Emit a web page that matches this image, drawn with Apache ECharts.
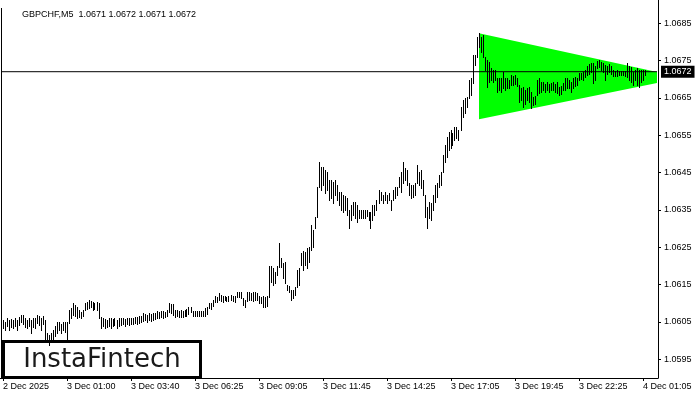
<!DOCTYPE html>
<html>
<head>
<meta charset="utf-8">
<script src="https://cdn.jsdelivr.net/npm/echarts@6/dist/echarts.min.js"></script>
<style>
html,body{margin:0;padding:0;background:#fff;}
#c{width:700px;height:400px;}
</style>
</head>
<body>
<div id="c"></div>
<script>
// ---- data ----
const symbolName = 'GBPCHF,M5';
const lastQuote = ['1.0671', '1.0672', '1.0671', '1.0672'];
const currentPrice = 1.0672;

// bar highs (one per 5-minute bar)
const highs = [
  1.06056,1.06056,1.06051,1.06061,1.06056,1.06059,1.06056,1.06061,1.06056,1.06064,
  1.06069,1.06069,1.06061,1.06056,1.06061,1.06056,1.06061,1.06061,1.06069,1.06067,
  1.06061,1.06067,1.06056,1.06021,1.06016,1.06021,1.06029,1.06040,1.06051,1.06051,
  1.06045,1.06051,1.06051,1.06051,1.06083,1.06088,1.06101,1.06096,1.06091,1.06083,
  1.06077,1.06083,1.06101,1.06104,1.06109,1.06107,1.06104,1.06101,1.06104,1.06101,
  1.06064,1.06061,1.06059,1.06056,1.06061,1.06061,1.06059,1.06061,1.06056,1.06061,
  1.06061,1.06061,1.06059,1.06061,1.06061,1.06061,1.06061,1.06064,1.06064,1.06067,
  1.06067,1.06075,1.06072,1.06069,1.06075,1.06072,1.06075,1.06075,1.06080,1.06077,
  1.06080,1.06080,1.06077,1.06083,1.06101,1.06099,1.06099,1.06083,1.06083,1.06080,
  1.06083,1.06080,1.06083,1.06085,1.06091,1.06091,1.06080,1.06080,1.06080,1.06080,
  1.06080,1.06080,1.06088,1.06091,1.06101,1.06101,1.06109,1.06120,1.06117,1.06128,
  1.06123,1.06120,1.06120,1.06117,1.06120,1.06123,1.06120,1.06120,1.06131,1.06131,
  1.06131,1.06115,1.06109,1.06131,1.06131,1.06128,1.06131,1.06131,1.06128,1.06120,
  1.06117,1.06120,1.06117,1.06120,1.06200,1.06200,1.06195,1.06184,1.06200,1.06262,
  1.06222,1.06208,1.06211,1.06149,1.06147,1.06136,1.06136,1.06144,1.06190,1.06195,
  1.06235,1.06240,1.06238,1.06248,1.06251,1.06310,1.06297,1.06331,1.06411,1.06478,
  1.06465,1.06465,1.06457,1.06452,1.06430,1.06430,1.06425,1.06430,1.06417,1.06398,
  1.06398,1.06390,1.06387,1.06382,1.06350,1.06363,1.06371,1.06371,1.06363,1.06350,
  1.06350,1.06350,1.06350,1.06350,1.06345,1.06345,1.06363,1.06363,1.06377,1.06403,
  1.06398,1.06390,1.06398,1.06390,1.06395,1.06377,1.06403,1.06411,1.06411,1.06438,
  1.06452,1.06478,1.06462,1.06457,1.06422,1.06417,1.06417,1.06422,1.06470,1.06452,
  1.06457,1.06430,1.06390,1.06358,1.06371,1.06369,1.06390,1.06417,1.06422,1.06444,
  1.06452,1.06497,1.06524,1.06545,1.06559,1.06564,1.06556,1.06572,1.06572,1.06564,
  1.06625,1.06644,1.06649,1.06652,1.06698,1.06703,1.06764,1.06764,1.06813,1.06823,
  1.06813,1.06818,1.06759,1.06751,1.06746,1.06730,1.06724,1.06724,1.06703,1.06703,
  1.06703,1.06719,1.06703,1.06703,1.06698,1.06711,1.06708,1.06711,1.06703,1.06684,
  1.06676,1.06679,1.06671,1.06676,1.06679,1.06666,1.06652,1.06655,1.06698,1.06703,
  1.06692,1.06692,1.06687,1.06692,1.06687,1.06690,1.06692,1.06687,1.06692,1.06679,
  1.06682,1.06690,1.06703,1.06703,1.06698,1.06692,1.06703,1.06706,1.06703,1.06716,
  1.06716,1.06719,1.06724,1.06735,1.06740,1.06743,1.06743,1.06735,1.06748,1.06751,
  1.06746,1.06743,1.06738,1.06735,1.06740,1.06735,1.06724,1.06722,1.06724,1.06722,
  1.06722,1.06722,1.06722,1.06743,1.06735,1.06732,1.06719,1.06724,1.06730,1.06724,
  1.06724,1.06724,1.06724
];

// bar lows
const lows = [
  1.06037,1.06034,1.06029,1.06040,1.06029,1.06037,1.06034,1.06040,1.06029,1.06043,
  1.06051,1.06045,1.06037,1.06034,1.06040,1.06021,1.06037,1.06034,1.06048,1.06043,
  1.06029,1.06045,1.06002,1.05997,1.05989,1.05997,1.06002,1.06013,1.06021,1.06029,
  1.06021,1.06029,1.06024,1.06002,1.06048,1.06061,1.06069,1.06067,1.06061,1.06064,
  1.06061,1.06067,1.06083,1.06085,1.06088,1.06091,1.06083,1.06085,1.06083,1.06061,
  1.06034,1.06040,1.06034,1.06037,1.06040,1.06034,1.06040,1.06043,1.06034,1.06040,
  1.06043,1.06045,1.06040,1.06045,1.06043,1.06045,1.06045,1.06048,1.06045,1.06048,
  1.06051,1.06053,1.06056,1.06051,1.06056,1.06053,1.06056,1.06059,1.06061,1.06061,
  1.06064,1.06061,1.06064,1.06067,1.06077,1.06075,1.06069,1.06064,1.06067,1.06064,
  1.06064,1.06064,1.06067,1.06067,1.06072,1.06077,1.06067,1.06067,1.06067,1.06067,
  1.06067,1.06067,1.06067,1.06072,1.06088,1.06085,1.06093,1.06104,1.06104,1.06109,
  1.06107,1.06104,1.06109,1.06107,1.06107,1.06109,1.06107,1.06104,1.06117,1.06117,
  1.06115,1.06096,1.06091,1.06107,1.06109,1.06109,1.06107,1.06109,1.06109,1.06101,
  1.06101,1.06091,1.06091,1.06093,1.06117,1.06157,1.06149,1.06155,1.06176,1.06198,
  1.06198,1.06168,1.06155,1.06136,1.06131,1.06109,1.06115,1.06123,1.06144,1.06149,
  1.06203,1.06190,1.06203,1.06195,1.06211,1.06243,1.06251,1.06302,1.06331,1.06411,
  1.06403,1.06417,1.06395,1.06403,1.06377,1.06382,1.06369,1.06390,1.06377,1.06363,
  1.06350,1.06345,1.06350,1.06337,1.06302,1.06323,1.06337,1.06329,1.06318,1.06329,
  1.06329,1.06329,1.06329,1.06334,1.06323,1.06302,1.06323,1.06337,1.06350,1.06369,
  1.06377,1.06369,1.06377,1.06369,1.06377,1.06350,1.06377,1.06382,1.06390,1.06411,
  1.06398,1.06422,1.06430,1.06417,1.06390,1.06382,1.06385,1.06390,1.06422,1.06417,
  1.06409,1.06390,1.06331,1.06302,1.06329,1.06323,1.06350,1.06371,1.06385,1.06411,
  1.06417,1.06452,1.06478,1.06492,1.06510,1.06516,1.06524,1.06537,1.06543,1.06537,
  1.06564,1.06599,1.06609,1.06625,1.06649,1.06658,1.06690,1.06738,1.06759,1.06786,
  1.06772,1.06759,1.06724,1.06679,1.06692,1.06698,1.06692,1.06698,1.06666,1.06671,
  1.06666,1.06676,1.06671,1.06676,1.06676,1.06684,1.06684,1.06687,1.06682,1.06639,
  1.06644,1.06625,1.06633,1.06644,1.06639,1.06623,1.06631,1.06633,1.06658,1.06663,
  1.06666,1.06671,1.06666,1.06671,1.06666,1.06671,1.06671,1.06666,1.06663,1.06658,
  1.06660,1.06671,1.06671,1.06676,1.06676,1.06666,1.06676,1.06682,1.06684,1.06698,
  1.06700,1.06698,1.06706,1.06711,1.06714,1.06719,1.06690,1.06698,1.06730,1.06732,
  1.06724,1.06719,1.06698,1.06714,1.06719,1.06714,1.06708,1.06708,1.06708,1.06711,
  1.06711,1.06711,1.06708,1.06706,1.06698,1.06692,1.06684,1.06698,1.06684,1.06679,
  1.06692,1.06698,1.06711
];

// symmetrical triangle pattern corners: [bar index, price]
const triangle = [[239, 1.06823], [328, 1.06719], [328, 1.06690], [239, 1.06593]];

// axis ticks
const xTickIndex = [1, 33, 65, 97, 129, 161, 193, 225, 257, 289, 321];
const xTickLabels = ['2 Dec 2025', '3 Dec 01:00', '3 Dec 03:40', '3 Dec 06:25', '3 Dec 09:05',
  '3 Dec 11:45', '3 Dec 14:25', '3 Dec 17:05', '3 Dec 19:45', '3 Dec 22:25', '4 Dec 01:05'];
const yTicks = [1.0595, 1.0605, 1.0615, 1.0625, 1.0635, 1.0645, 1.0655, 1.0665, 1.0675, 1.0685];
const yMin = 1.0590, yMax = 1.06912;
const slotCount = 329; // bars plus right-hand chart shift

// category slots (5-minute steps)
const categories = [];
for (let i = 0; i < slotCount; i++) categories.push('slot ' + i);

const FONT = 'Liberation Sans';
const chart = echarts.init(document.getElementById('c'), null, {renderer: 'canvas'});

const barData = highs.map((h, i) => [i, h, lows[i]]);
const priceLine = [[0, currentPrice], [slotCount - 1, currentPrice]];

chart.setOption({
  animation: false,
  backgroundColor: '#fff',
  title: {
    text: symbolName + '  ' + lastQuote.join(' '),
    left: 17, top: 5,
    textStyle: {fontFamily: FONT, fontSize: 9, fontWeight: 'normal', color: '#000'}
  },
  grid: {left: 0, top: 0, width: 658, height: 378, containLabel: false},
  xAxis: {
    type: 'category',
    data: categories,
    boundaryGap: true,
    axisLine: {show: true, lineStyle: {color: '#000', width: 1}},
    axisTick: {
      show: true, alignWithLabel: true, length: 3,
      interval: (idx) => xTickIndex.includes(idx),
      lineStyle: {color: '#000'}
    },
    axisLabel: {
      interval: (idx) => xTickIndex.includes(idx),
      formatter: (v, idx) => {
        const k = xTickIndex.indexOf(idx);
        return k >= 0 ? xTickLabels[k] : '';
      },
      align: 'left', margin: 4, color: '#000', fontSize: 9, fontFamily: FONT
    },
    splitLine: {show: false}
  },
  yAxis: {
    type: 'value',
    position: 'right',
    min: yMin, max: yMax,
    axisLine: {show: true, lineStyle: {color: '#000', width: 1}},
    axisTick: {show: true, length: 3, customValues: yTicks, lineStyle: {color: '#000'}},
    axisLabel: {
      customValues: yTicks,
      formatter: (v) => v.toFixed(4),
      margin: 6, color: '#000', fontSize: 9, fontFamily: FONT
    },
    splitLine: {show: false}
  },
  series: [
    {
      type: 'custom',
      name: 'pattern',
      z: 1,
      silent: true,
      data: [0],
      renderItem: (params, api) => {
        const pts = triangle.map(p => api.coord(p));
        return {type: 'polygon', shape: {points: pts}, style: {fill: '#00ff00'}};
      }
    },
    {
      type: 'custom',
      name: 'GBPCHF',
      z: 3,
      silent: true,
      data: barData,
      encode: {x: 0, y: [1, 2]},
      renderItem: (params, api) => {
        const i = api.value(0);
        const pt = api.coord([i, api.value(1)]);
        const pb = api.coord([i, api.value(2)]);
        const x = Math.floor(pt[0]);
        const y1 = Math.round(pt[1]);
        const y2 = Math.round(pb[1]);
        return {type: 'rect', shape: {x: x, y: y1, width: 1, height: Math.max(1, y2 - y1 + 1)}, style: {fill: '#000'}};
      }
    },
    {
      type: 'line',
      name: 'price',
      z: 4,
      silent: true,
      symbol: 'none',
      data: priceLine,
      lineStyle: {color: '#000', width: 1},
      endLabel: {
        show: true, distance: 4,
        formatter: () => currentPrice.toFixed(4),
        backgroundColor: '#000', color: '#fff',
        padding: [2, 3, 1, 3], fontSize: 9, fontFamily: FONT
      }
    }
  ],
  graphic: [
    {type: 'line', shape: {x1: 1.5, y1: 8, x2: 1.5, y2: 378}, style: {stroke: '#000', lineWidth: 1}, z: 5},
    {
      type: 'group', z: 100,
      children: [
        {type: 'rect', shape: {x: 3.5, y: 341.5, width: 197, height: 36}, style: {fill: '#fff', stroke: '#000', lineWidth: 3}},
        {type: 'text', x: 102, y: 360, style: {text: 'InstaFintech', fontFamily: 'DejaVu Sans', fontSize: 26, fill: '#1a1a1a', align: 'center', verticalAlign: 'middle'}}
      ]
    }
  ]
});
</script>
</body>
</html>
